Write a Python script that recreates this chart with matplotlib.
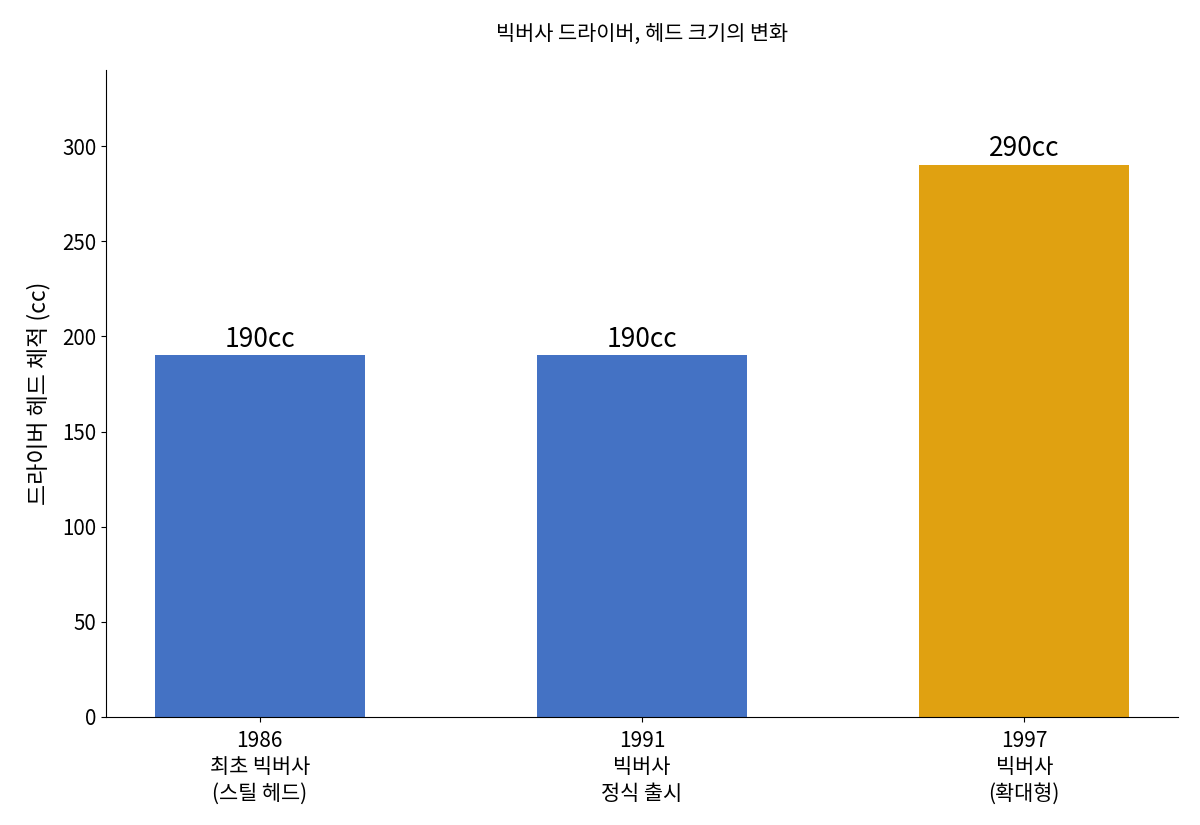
import matplotlib
matplotlib.use("Agg")
import matplotlib.pyplot as plt

plt.rcParams['font.family'] = ['Noto Sans CJK KR', 'DejaVu Sans']

categories = ["1986\n최초 빅버사\n(스틸 헤드)", "1991\n빅버사\n정식 출시", "1997\n빅버사\n(확대형)"]
values = [190, 190, 290]
labels = ["190cc", "190cc", "290cc"]
colors = ["#4472C4", "#4472C4", "#E0A111"]

fig = plt.figure(figsize=(12, 8.25), dpi=100)
ax = fig.add_axes([0.0883, 0.131, 0.8934, 0.784])
x = list(range(len(categories)))
bars = ax.bar(x, values, width=0.55, color=colors)
for b, lab in zip(bars, labels):
    ax.text(b.get_x() + b.get_width() / 2, b.get_height() + 1.5, lab,
            ha='center', va='bottom', fontsize=19)
ax.set_xticks(x)
ax.set_xticklabels(categories, fontsize=15, linespacing=1.25)
ax.tick_params(axis='x', pad=6)
ax.tick_params(axis='y', labelsize=14.8)
ax.set_ylim(0, 340)
ax.set_yticks([0, 50, 100, 150, 200, 250, 300])
ax.set_ylabel("드라이버 헤드 체적 (cc)", fontsize=16.5, labelpad=8)
ax.set_title("빅버사 드라이버, 헤드 크기의 변화", fontsize=15, pad=22)
ax.spines['top'].set_visible(False)
ax.spines['right'].set_visible(False)
fig.savefig("out.png", dpi=100)
